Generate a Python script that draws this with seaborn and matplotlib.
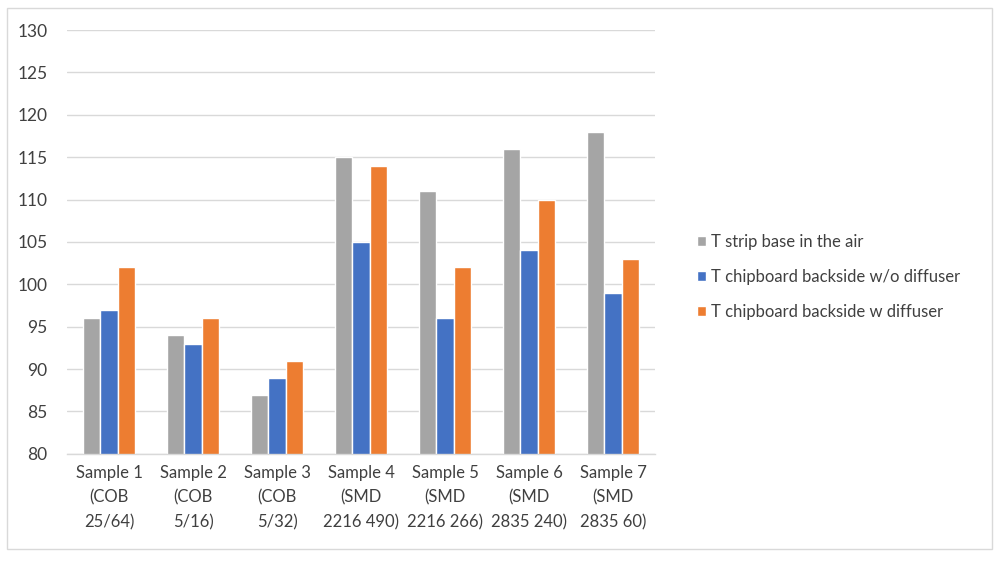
import matplotlib
matplotlib.use("Agg")
import matplotlib.pyplot as plt
import seaborn as sns
import pandas as pd
from matplotlib.patches import Rectangle

# ── Data ──────────────────────────────────────────────────────────────────────
samples = [
    "Sample 1\n(COB\n25/64)",
    "Sample 2\n(COB\n5/16)",
    "Sample 3\n(COB\n5/32)",
    "Sample 4\n(SMD\n2216 490)",
    "Sample 5\n(SMD\n2216 266)",
    "Sample 6\n(SMD\n2835 240)",
    "Sample 7\n(SMD\n2835 60)",
]
series_names = [
    "T strip base in the air",
    "T chipboard backside w/o diffuser",
    "T chipboard backside w diffuser",
]
t_strip_air = [96, 94, 87, 115, 111, 116, 118]
t_backside_no_diff = [97, 93, 89, 105, 96, 104, 99]
t_backside_diff = [102, 96, 91, 114, 102, 110, 103]

y_ticks = [80, 85, 90, 95, 100, 105, 110, 115, 120, 125, 130]
colors = ["#A5A5A5", "#4472C4", "#ED7D31"]

df = pd.DataFrame({
    "sample": samples * 3,
    "series": [series_names[0]] * 7 + [series_names[1]] * 7 + [series_names[2]] * 7,
    "value": t_strip_air + t_backside_no_diff + t_backside_diff,
})

# ── Plot ──────────────────────────────────────────────────────────────────────
sns.set_style("white")
plt.rcParams["font.family"] = ["Lato", "DejaVu Sans"]

fig = plt.figure(figsize=(10, 5.61), dpi=100)
ax = fig.add_axes([0.067, 0.191, 0.588, 0.7555])

sns.barplot(data=df, x="sample", y="value", hue="series", order=samples,
            hue_order=series_names, palette=colors, width=0.61,
            saturation=1, ax=ax, legend=True)

ax.set_ylim(80, 130)
ax.set_yticks(y_ticks)
ax.set_xlim(-0.5, len(samples) - 0.5)
ax.yaxis.grid(True, color="#D9D9D9", linewidth=1)
ax.set_axisbelow(True)
for side in ["top", "right", "left"]:
    ax.spines[side].set_visible(False)
ax.spines["bottom"].set_color("#D9D9D9")
ax.spines["bottom"].set_linewidth(1)

ax.tick_params(axis="y", length=0, pad=14, labelsize=12.5, labelcolor="#404040")
ax.tick_params(axis="x", which="major", length=0, pad=8, labelsize=12,
               labelcolor="#404040")
ax.set_xticks([i - 0.5 for i in range(len(samples) + 1)], minor=True)
ax.tick_params(axis="x", which="minor", length=6, color="#D9D9D9", width=1)
for lbl in ax.get_xticklabels():
    lbl.set_linespacing(1.65)
ax.set_xlabel("")
ax.set_ylabel("")

handles, labels = ax.get_legend_handles_labels()
ax.get_legend().remove()
fig.legend(handles, labels, loc="center left", bbox_to_anchor=(0.682, 0.506),
           frameon=False, fontsize=12, handlelength=0.55, handleheight=0.55,
           handletextpad=0.3, labelspacing=1.15, labelcolor="#404040")

fig.patches.append(Rectangle((0.007, 0.022), 0.985, 0.964,
                             transform=fig.transFigure, fill=False,
                             edgecolor="#D9D9D9", linewidth=1))

fig.savefig("out.png", dpi=100)
